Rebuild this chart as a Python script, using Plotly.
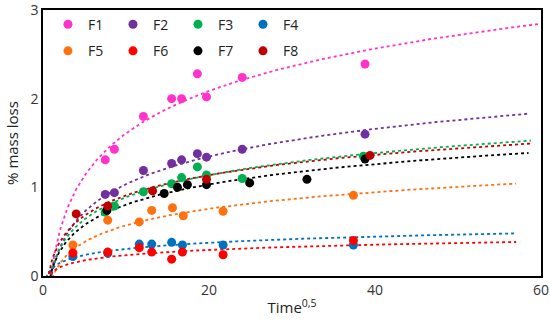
import numpy as np
import plotly.graph_objects as go

names = ["F1", "F2", "F3", "F4", "F5", "F6", "F7", "F8"]
colors = ["#FF33CC", "#7030A0", "#00B050", "#0070C0", "#FF7010", "#FF0000", "#000000", "#C00000"]

t_main = [7.5, 8.6, 12.1, 15.5, 16.7, 18.6, 19.7, 24.0, 38.8]
t_low = [3.6, 7.8, 11.6, 13.1, 15.5, 16.8, 21.7, 37.4]

F1_t = t_main
F1_v = [1.31, 1.43, 1.80, 2.00, 2.00, 2.28, 2.02, 2.24, 2.39]
F2_t = t_main
F2_v = [0.92, 0.94, 1.19, 1.27, 1.31, 1.38, 1.34, 1.43, 1.60]
F3_t = [7.5, 8.6, 12.1, 15.5, 16.7, 18.6, 19.7, 24.0, 38.6]
F3_v = [0.72, 0.79, 0.95, 1.04, 1.11, 1.23, 1.14, 1.10, 1.35]
F4_t = t_low
F4_v = [0.22, 0.26, 0.36, 0.36, 0.38, 0.35, 0.35, 0.35]
F5_t = [3.6, 7.8, 11.6, 13.1, 15.6, 16.9, 21.7, 37.4]
F5_v = [0.35, 0.63, 0.61, 0.74, 0.77, 0.68, 0.73, 0.91]
F6_t = t_low
F6_v = [0.26, 0.27, 0.32, 0.27, 0.19, 0.27, 0.24, 0.40]
F7_t = [7.7, 14.6, 16.2, 17.4, 19.7, 24.9, 31.8, 38.8]
F7_v = [0.74, 0.93, 1.00, 1.03, 1.03, 1.05, 1.09, 1.32]
F8_t = [4.0, 7.8, 13.2, 19.7, 39.4]
F8_v = [0.70, 0.79, 0.96, 1.09, 1.36]

# logarithmic trendlines: v = a*ln(t) + c, drawn up to t_end
trend_a = [0.69, 0.45, 0.36, 0.10, 0.27, 0.085, 0.33, 0.33]
trend_c = [0.02, 0.00, 0.06, 0.076, -0.05, 0.04, 0.045, 0.15]
trend_end = [60, 58.4, 58.8, 57, 57, 57, 58.5, 58.8]

series_t = [F1_t, F2_t, F3_t, F4_t, F5_t, F6_t, F7_t, F8_t]
series_v = [F1_v, F2_v, F3_v, F4_v, F5_v, F6_v, F7_v, F8_v]

x_ticks = [0, 20, 40, 60]
y_ticks = [0, 1, 2, 3]

FONT = "Open Sans"
fig = go.Figure()

for i in range(8):
    tt = np.linspace(0.2, trend_end[i], 400)
    fig.add_trace(go.Scatter(
        x=tt, y=trend_a[i] * np.log(tt) + trend_c[i], mode="lines",
        line=dict(color=colors[i], width=1.8, dash="dot"),
        showlegend=False, hoverinfo="skip"))

for i in range(8):
    fig.add_trace(go.Scatter(
        x=series_t[i], y=series_v[i], mode="markers", name=names[i],
        marker=dict(color=colors[i], size=9, line=dict(width=0)),
        legend="legend" if i < 4 else "legend2"))

leg_common = dict(orientation="h", bgcolor="rgba(0,0,0,0)",
                  font=dict(family=FONT, size=14, color="#222"),
                  entrywidth=20, entrywidthmode="pixels",
                  itemwidth=30, xanchor="left", yanchor="middle",
                  tracegroupgap=0)

fig.update_layout(
    width=550, height=326,
    margin=dict(l=43, r=9, t=10, b=50, autoexpand=False),
    plot_bgcolor="white", paper_bgcolor="white",
    font=dict(family=FONT, size=14, color="#333"),
    legend=dict(x=0.01, y=0.945, **leg_common),
    legend2=dict(x=0.01, y=0.845, **leg_common),
    xaxis=dict(range=[0, 60], tickvals=x_ticks, showgrid=False, zeroline=False,
               showline=True, mirror=True, linecolor="black", linewidth=1.5,
               ticks="", tickfont=dict(size=14, color="#333"), automargin=False,
               ticklabeloverflow="allow",
               title=dict(text="Time<sup>0,5</sup>", font=dict(size=15, color="#222"), standoff=5)),
    yaxis=dict(range=[0, 3], tickvals=y_ticks, showgrid=False, zeroline=False,
               showline=True, mirror=True, linecolor="black", linewidth=1.5,
               ticks="", tickfont=dict(size=14, color="#333"), automargin=False,
               ticklabeloverflow="allow",
               title=dict(text="% mass loss", font=dict(size=15, color="#222"), standoff=8)),
)

fig.write_html("out.html", config={"displayModeBar": False},
               post_script="document.body.style.margin='0';")
